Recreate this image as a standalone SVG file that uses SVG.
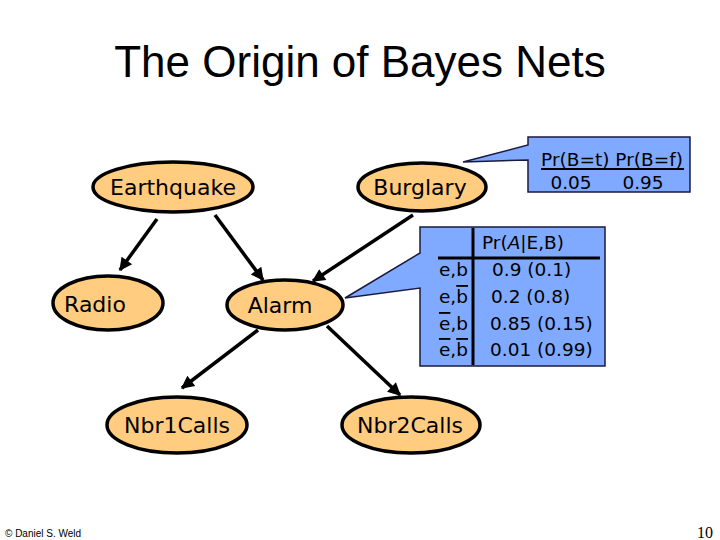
<svg xmlns="http://www.w3.org/2000/svg" width="720" height="540" viewBox="0 0 720 540">
<style>
.node ellipse{fill:#FFCC80;stroke:#000;stroke-width:3.5}
.node text{font-family:"DejaVu Sans",sans-serif;font-size:22px;fill:#000;text-anchor:middle}
.edge{stroke:#000;stroke-width:3.5;fill:none;marker-end:url(#ah)}
.cpt{fill:#80AAFF;stroke:#1a1a40;stroke-width:1.5}
.t{font-family:"DejaVu Sans",sans-serif;font-size:18.5px;fill:#000}
</style>
<defs>
<marker id="ah" viewBox="0 0 10 10" refX="9" refY="5" markerUnits="userSpaceOnUse" markerWidth="15" markerHeight="13" orient="auto">
<path d="M0,0 L10,5 L0,10 Z" fill="#000"/>
</marker>
</defs>
<rect width="720" height="540" fill="#fff"/>
<text x="360" y="77" font-family="Liberation Sans, Arial, sans-serif" font-size="44" text-anchor="middle">The Origin of Bayes Nets</text>

<g id="connectors">
<line class="edge" x1="157" y1="219" x2="120" y2="270"/>
<line class="edge" x1="215" y1="215" x2="263" y2="280"/>
<line class="edge" x1="413" y1="215" x2="313" y2="281"/>
<line class="edge" x1="258" y1="330" x2="182" y2="388"/>
<line class="edge" x1="327" y1="326" x2="400" y2="395"/>
</g>

<g id="earthquake" class="node"><ellipse cx="173" cy="187" rx="80" ry="25"/><text x="173" y="195">Earthquake</text></g>
<g id="burglary" class="node"><ellipse cx="422" cy="187" rx="64" ry="24"/><text x="420" y="195">Burglary</text></g>
<g id="radio" class="node"><ellipse cx="108" cy="303" rx="55" ry="27"/><text x="95" y="312">Radio</text></g>
<g id="alarm" class="node"><ellipse cx="285" cy="305" rx="58" ry="25"/><text x="280" y="313">Alarm</text></g>
<g id="nbr1calls" class="node"><ellipse cx="177" cy="425" rx="70" ry="28"/><text x="177" y="433">Nbr1Calls</text></g>
<g id="nbr2calls" class="node"><ellipse cx="411" cy="425" rx="69" ry="28"/><text x="410" y="433">Nbr2Calls</text></g>

<g id="cpt-b">
<path class="cpt" d="M463,162 L528,145 L528,137 L690,137 L690,192 L528,192 L528,160 Z"/>
<text class="t" x="612" y="166" text-anchor="middle" font-size="18">Pr(B=t) Pr(B=f)</text>
<line x1="541" y1="169" x2="684" y2="169" stroke="#000" stroke-width="2"/>
<text class="t" x="571" y="189" text-anchor="middle" font-size="18">0.05</text>
<text class="t" x="643" y="189" text-anchor="middle" font-size="18">0.95</text>
</g>

<g id="cpt-a">
<path class="cpt" d="M345,298 L420,253 L420,227 L605,227 L605,366 L420,366 L420,288 Z"/>
<line x1="473" y1="228" x2="473" y2="365" stroke="#000" stroke-width="3"/>
<line x1="438" y1="258" x2="600" y2="258" stroke="#000" stroke-width="3"/>
<text class="t" x="482" y="249">Pr(<tspan font-style="italic">A</tspan>|E,B)</text>
<g text-anchor="end">
<text class="t" x="468" y="276">e,b</text>
<text class="t" x="468" y="303">e,<tspan text-decoration="overline">b</tspan></text>
<text class="t" x="468" y="330"><tspan text-decoration="overline">e</tspan>,b</text>
<text class="t" x="468" y="356"><tspan text-decoration="overline">e</tspan>,<tspan text-decoration="overline">b</tspan></text>
</g>
<g>
<text class="t" x="492" y="276">0.9 (0.1)</text>
<text class="t" x="491" y="303">0.2 (0.8)</text>
<text class="t" x="490" y="330">0.85 (0.15)</text>
<text class="t" x="490" y="356">0.01 (0.99)</text>
</g>
</g>

<text x="5" y="537" font-family="Liberation Sans, Arial, sans-serif" font-size="10">© Daniel S. Weld</text>
<text x="713" y="538" font-family="Liberation Serif, Times New Roman, serif" font-size="16" text-anchor="end">10</text>
</svg>
